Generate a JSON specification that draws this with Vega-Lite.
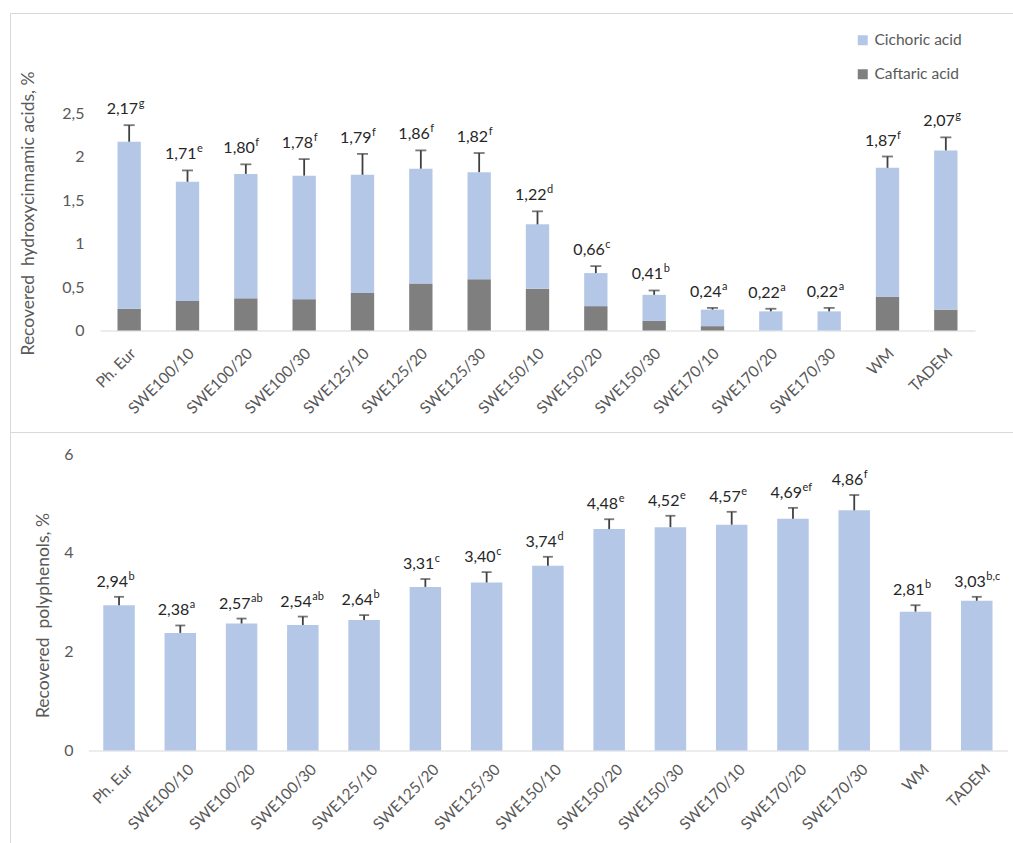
{
  "$schema": "https://vega.github.io/schema/vega-lite/v6.json",
  "padding": {"left": 9, "top": 12, "right": 0, "bottom": 0},
  "bounds": "flush",
  "spacing": 0,
  "config": {
    "font": "Lato",
    "locale": {"number": {"decimal": ",", "thousands": " ", "grouping": [3], "currency": ["", ""]}},
    "view": {"stroke": "#d9d9d9", "strokeWidth": 1},
    "axis": {
      "labelFont": "Lato", "titleFont": "Lato",
      "labelColor": "#595959", "titleColor": "#595959",
      "titleFontWeight": "normal", "grid": false, "ticks": false
    },
    "axisX": {
      "domainColor": "#d9d9d9", "domainWidth": 1, "labelAngle": -45, "labelAlign": "right",
      "labelBaseline": "middle", "labelFontSize": 15.5, "labelOverlap": false, "labelLimit": 0
    },
    "axisY": {"domain": false, "labelFontSize": 16, "titleFontSize": 17.5, "titleBaseline": "middle", "titleAlign": "center"}
  },
  "datasets": {
    "hca_parts": [
      {"sample": "Ph. Eur", "acid": "Caftaric acid", "value": 0.25},
      {"sample": "Ph. Eur", "acid": "Cichoric acid", "value": 1.92},
      {"sample": "SWE100/10", "acid": "Caftaric acid", "value": 0.34},
      {"sample": "SWE100/10", "acid": "Cichoric acid", "value": 1.37},
      {"sample": "SWE100/20", "acid": "Caftaric acid", "value": 0.37},
      {"sample": "SWE100/20", "acid": "Cichoric acid", "value": 1.43},
      {"sample": "SWE100/30", "acid": "Caftaric acid", "value": 0.36},
      {"sample": "SWE100/30", "acid": "Cichoric acid", "value": 1.42},
      {"sample": "SWE125/10", "acid": "Caftaric acid", "value": 0.43},
      {"sample": "SWE125/10", "acid": "Cichoric acid", "value": 1.36},
      {"sample": "SWE125/20", "acid": "Caftaric acid", "value": 0.54},
      {"sample": "SWE125/20", "acid": "Cichoric acid", "value": 1.32},
      {"sample": "SWE125/30", "acid": "Caftaric acid", "value": 0.59},
      {"sample": "SWE125/30", "acid": "Cichoric acid", "value": 1.23},
      {"sample": "SWE150/10", "acid": "Caftaric acid", "value": 0.48},
      {"sample": "SWE150/10", "acid": "Cichoric acid", "value": 0.74},
      {"sample": "SWE150/20", "acid": "Caftaric acid", "value": 0.28},
      {"sample": "SWE150/20", "acid": "Cichoric acid", "value": 0.38},
      {"sample": "SWE150/30", "acid": "Caftaric acid", "value": 0.11},
      {"sample": "SWE150/30", "acid": "Cichoric acid", "value": 0.30},
      {"sample": "SWE170/10", "acid": "Caftaric acid", "value": 0.05},
      {"sample": "SWE170/10", "acid": "Cichoric acid", "value": 0.19},
      {"sample": "SWE170/20", "acid": "Caftaric acid", "value": 0},
      {"sample": "SWE170/20", "acid": "Cichoric acid", "value": 0.22},
      {"sample": "SWE170/30", "acid": "Caftaric acid", "value": 0},
      {"sample": "SWE170/30", "acid": "Cichoric acid", "value": 0.22},
      {"sample": "WM", "acid": "Caftaric acid", "value": 0.39},
      {"sample": "WM", "acid": "Cichoric acid", "value": 1.48},
      {"sample": "TADEM", "acid": "Caftaric acid", "value": 0.24},
      {"sample": "TADEM", "acid": "Cichoric acid", "value": 1.83}
    ],
    "hca": [
      {"sample": "Ph. Eur", "total": 2.17, "upper": 2.36, "group": "g"},
      {"sample": "SWE100/10", "total": 1.71, "upper": 1.84, "group": "e"},
      {"sample": "SWE100/20", "total": 1.80, "upper": 1.91, "group": "f"},
      {"sample": "SWE100/30", "total": 1.78, "upper": 1.97, "group": "f"},
      {"sample": "SWE125/10", "total": 1.79, "upper": 2.03, "group": "f"},
      {"sample": "SWE125/20", "total": 1.86, "upper": 2.07, "group": "f"},
      {"sample": "SWE125/30", "total": 1.82, "upper": 2.04, "group": "f"},
      {"sample": "SWE150/10", "total": 1.22, "upper": 1.37, "group": "d"},
      {"sample": "SWE150/20", "total": 0.66, "upper": 0.74, "group": "c"},
      {"sample": "SWE150/30", "total": 0.41, "upper": 0.46, "group": "b"},
      {"sample": "SWE170/10", "total": 0.24, "upper": 0.26, "group": "a"},
      {"sample": "SWE170/20", "total": 0.22, "upper": 0.25, "group": "a"},
      {"sample": "SWE170/30", "total": 0.22, "upper": 0.26, "group": "a"},
      {"sample": "WM", "total": 1.87, "upper": 2.00, "group": "f"},
      {"sample": "TADEM", "total": 2.07, "upper": 2.22, "group": "g"}
    ],
    "polyphenols": [
      {"sample": "Ph. Eur", "value": 2.94, "upper": 3.11, "group": "b"},
      {"sample": "SWE100/10", "value": 2.38, "upper": 2.53, "group": "a"},
      {"sample": "SWE100/20", "value": 2.57, "upper": 2.67, "group": "ab"},
      {"sample": "SWE100/30", "value": 2.54, "upper": 2.71, "group": "ab"},
      {"sample": "SWE125/10", "value": 2.64, "upper": 2.74, "group": "b"},
      {"sample": "SWE125/20", "value": 3.31, "upper": 3.47, "group": "c"},
      {"sample": "SWE125/30", "value": 3.40, "upper": 3.61, "group": "c"},
      {"sample": "SWE150/10", "value": 3.74, "upper": 3.92, "group": "d"},
      {"sample": "SWE150/20", "value": 4.48, "upper": 4.68, "group": "e"},
      {"sample": "SWE150/30", "value": 4.52, "upper": 4.75, "group": "e"},
      {"sample": "SWE170/10", "value": 4.57, "upper": 4.83, "group": "e"},
      {"sample": "SWE170/20", "value": 4.69, "upper": 4.91, "group": "ef"},
      {"sample": "SWE170/30", "value": 4.86, "upper": 5.17, "group": "f"},
      {"sample": "WM", "value": 2.81, "upper": 2.94, "group": "b"},
      {"sample": "TADEM", "value": 3.03, "upper": 3.11, "group": "b,c"}
    ]
  },
  "vconcat": [
    {
      "width": 1003,
      "height": 419,
      "layer": [
        {
          "data": {"name": "hca_parts"},
          "mark": {"type": "bar"},
          "encoding": {
            "x": {
              "field": "sample", "type": "nominal", "title": null,
              "scale": {
                "domain": ["Ph. Eur", "SWE100/10", "SWE100/20", "SWE100/30", "SWE125/10", "SWE125/20", "SWE125/30", "SWE150/10", "SWE150/20", "SWE150/30", "SWE170/10", "SWE170/20", "SWE170/30", "WM", "TADEM"],
                "range": [90, 965], "paddingInner": 0.6, "paddingOuter": 0.3
              },
              "axis": {"offset": -101.5, "labelPadding": 20, "labelOffset": 4}
            },
            "y": {
              "field": "value", "type": "quantitative", "stack": "zero",
              "title": "Recovered\u00a0 hydroxycinnamic acids, %",
              "scale": {"domain": [0, 2.5], "range": [317.5, 100], "nice": false, "zero": true},
              "axis": {
                "values": [0, 0.5, 1, 1.5, 2, 2.5],
                "format": "~f", "offset": -82, "labelPadding": 8, "titleX": -63.5, "titleY": 200
              }
            },
            "color": {
              "field": "acid", "type": "nominal",
              "scale": {"domain": ["Cichoric acid", "Caftaric acid"], "range": ["#b4c7e7", "#7f7f7f"]},
              "legend": {
                "title": null, "orient": "none", "legendX": 845, "legendY": 19.5, "padding": 0,
                "symbolType": "square", "symbolSize": 100, "symbolStrokeWidth": 0,
                "labelFontSize": 15.5, "labelColor": "#595959", "labelFont": "Lato", "rowPadding": 17, "labelOffset": 4
              }
            },
            "order": {"field": "acid", "sort": "ascending"}
          }
        },
        {
          "data": {"name": "hca"},
          "mark": {"type": "rule", "color": "#404040", "strokeWidth": 1.8},
          "encoding": {
            "x": {"field": "sample", "type": "nominal", "title": null},
            "y": {"field": "total", "type": "quantitative", "title": "Recovered\u00a0 hydroxycinnamic acids, %"},
            "y2": {"field": "upper"}
          }
        },
        {
          "data": {"name": "hca"},
          "mark": {"type": "tick", "color": "#404040", "thickness": 1.8, "size": 11, "orient": "horizontal"},
          "encoding": {
            "x": {"field": "sample", "type": "nominal", "title": null},
            "y": {"field": "upper", "type": "quantitative", "title": "Recovered\u00a0 hydroxycinnamic acids, %"}
          }
        },
        {
          "data": {"name": "hca"},
          "mark": {"type": "text", "align": "right", "baseline": "alphabetic", "dx": 9, "dy": -11, "fontSize": 16, "color": "#262626"},
          "encoding": {
            "x": {"field": "sample", "type": "nominal", "title": null},
            "y": {"field": "upper", "type": "quantitative", "title": "Recovered\u00a0 hydroxycinnamic acids, %"},
            "text": {"field": "total", "type": "quantitative", "format": ".2f"}
          }
        },
        {
          "data": {"name": "hca"},
          "mark": {"type": "text", "align": "left", "baseline": "alphabetic", "dx": 9.5, "dy": -18, "fontSize": 11, "color": "#262626"},
          "encoding": {
            "x": {"field": "sample", "type": "nominal", "title": null},
            "y": {"field": "upper", "type": "quantitative", "title": "Recovered\u00a0 hydroxycinnamic acids, %"},
            "text": {"field": "group", "type": "nominal"}
          }
        }
      ]
    },
    {
      "width": 1003,
      "height": 412,
      "layer": [
        {
          "data": {"name": "polyphenols"},
          "mark": {"type": "bar", "color": "#b4c7e7"},
          "encoding": {
            "x": {
              "field": "sample", "type": "nominal", "title": null,
              "scale": {
                "domain": ["Ph. Eur", "SWE100/10", "SWE100/20", "SWE100/30", "SWE125/10", "SWE125/20", "SWE125/30", "SWE150/10", "SWE150/20", "SWE150/30", "SWE170/10", "SWE170/20", "SWE170/30", "WM", "TADEM"],
                "range": [78.4, 997.4], "paddingInner": 0.486, "paddingOuter": 0.243
              },
              "axis": {"offset": -93.5, "labelPadding": 16, "labelOffset": 11}
            },
            "y": {
              "field": "value", "type": "quantitative",
              "title": "Recovered\u00a0 polyphenols, %",
              "scale": {"domain": [0, 6], "range": [318.5, 22], "nice": false},
              "axis": {
                "values": [0, 2, 4, 6],
                "format": "~f", "offset": -71, "labelPadding": 8, "titleX": -38, "titleY": 183
              }
            }
          }
        },
        {
          "data": {"name": "polyphenols"},
          "mark": {"type": "rule", "color": "#404040", "strokeWidth": 1.8},
          "encoding": {
            "x": {"field": "sample", "type": "nominal", "title": null},
            "y": {"field": "value", "type": "quantitative", "title": "Recovered\u00a0 polyphenols, %"},
            "y2": {"field": "upper"}
          }
        },
        {
          "data": {"name": "polyphenols"},
          "mark": {"type": "tick", "color": "#404040", "thickness": 1.8, "size": 10, "orient": "horizontal"},
          "encoding": {
            "x": {"field": "sample", "type": "nominal", "title": null},
            "y": {"field": "upper", "type": "quantitative", "title": "Recovered\u00a0 polyphenols, %"}
          }
        },
        {
          "data": {"name": "polyphenols"},
          "mark": {"type": "text", "align": "right", "baseline": "alphabetic", "dx": 9, "dy": -10, "fontSize": 16, "color": "#262626"},
          "encoding": {
            "x": {"field": "sample", "type": "nominal", "title": null},
            "y": {"field": "upper", "type": "quantitative", "title": "Recovered\u00a0 polyphenols, %"},
            "text": {"field": "value", "type": "quantitative", "format": ".2f"}
          }
        },
        {
          "data": {"name": "polyphenols"},
          "mark": {"type": "text", "align": "left", "baseline": "alphabetic", "dx": 9.5, "dy": -17, "fontSize": 11, "color": "#262626"},
          "encoding": {
            "x": {"field": "sample", "type": "nominal", "title": null},
            "y": {"field": "upper", "type": "quantitative", "title": "Recovered\u00a0 polyphenols, %"},
            "text": {"field": "group", "type": "nominal"}
          }
        }
      ]
    }
  ]
}
